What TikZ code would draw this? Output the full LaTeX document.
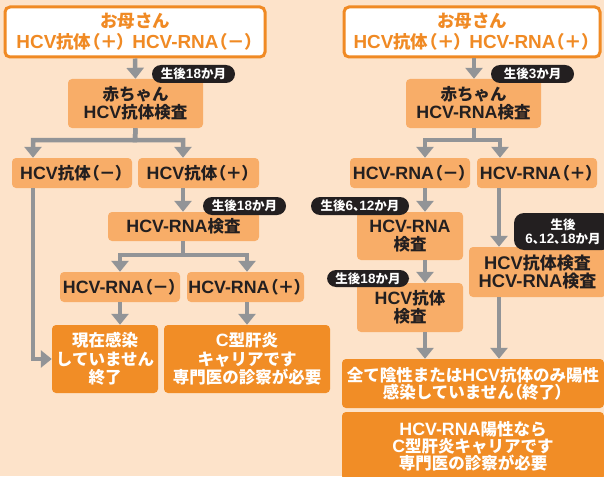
\documentclass[tikz,border=0pt]{standalone}
\usepackage{fontspec}
\setmainfont{Noto Sans CJK JP}
\newfontfamily\jpp{Noto Sans CJK JP}[RawFeature=+palt]
\newfontfamily\lf{Liberation Sans}[Scale=1.08]
\usetikzlibrary{arrows.meta}
\definecolor{bg}{HTML}{FDE3CA}
\definecolor{lor}{HTML}{F8AD68}
\definecolor{dor}{HTML}{F18D26}
\definecolor{otx}{HTML}{F08A24}
\definecolor{gry}{HTML}{929497}
\definecolor{blk}{HTML}{231F20}
\newcommand\LT[1]{{\lf\bfseries #1}}
\newcommand\pk[1]{{\jpp\bfseries #1}}
\tikzset{
  topbox/.style={draw=otx, line width=3pt, fill=white, rounded corners=5pt, inner sep=0pt, text=otx, align=center, font=\fontsize{17.5}{21}\selectfont\bfseries},
  lbox/.style={fill=lor, rounded corners=4pt, inner sep=0pt, text=blk, align=center, font=\fontsize{16.5}{18.5}\selectfont\bfseries},
  dbox/.style={fill=dor, rounded corners=4pt, inner sep=0pt, text=white, align=center, font=\fontsize{16.5}{18.3}\selectfont\bfseries},
  pill/.style={fill=blk, rounded corners=9pt, inner sep=0pt, text=white, align=center, minimum height=18pt, font=\fontsize{12.5}{13.5}\selectfont\bfseries},
  conn/.style={draw=gry, line width=4.5pt},
  arr/.style={conn, -{Triangle[width=17pt,length=11pt]}}
}
\begin{document}
\begin{tikzpicture}[x=1pt,y=-1pt]
\useasboundingbox (0,0) rectangle (604,476);
\clip (0,0) rectangle (604,476);
\fill[bg] (0,0) rectangle (604,476);

% ---------- left column ----------
\node[topbox, minimum width=260pt, minimum height=50pt] (m1) at (135,32)
  {お母さん\\\LT{HCV}抗体\pk{（＋）}\hspace{6pt}\LT{HCV-RNA}\pk{（－）}};
\node[lbox, minimum width=135pt, minimum height=49pt] (b1) at (135.5,103.5)
  {赤ちゃん\\\LT{HCV}抗体検査};
\node[lbox, minimum width=120pt, minimum height=30pt] (n1) at (72,173) {\LT{HCV}抗体\pk{（－）}};
\node[lbox, minimum width=121pt, minimum height=30pt] (n2) at (198.5,173) {\LT{HCV}抗体\pk{（＋）}};
\node[lbox, minimum width=151pt, minimum height=29pt] (r1) at (183.5,226.5) {\LT{HCV-RNA}検査};
\node[lbox, minimum width=120pt, minimum height=30pt] (n3) at (120,287) {\LT{HCV-RNA}\pk{（－）}};
\node[lbox, minimum width=117pt, minimum height=30pt] (n4) at (245.5,287) {\LT{HCV-RNA}\pk{（＋）}};
\node[dbox, minimum width=106pt, minimum height=68pt] (d1) at (105,359)
  {現在感染\\していません\\終了};
\node[dbox, minimum width=166pt, minimum height=68pt] (d2) at (247,359)
  {\LT{C}型肝炎\\キャリアです\\専門医の診察が必要};

\coordinate (j1) at (135,140);
\coordinate (j2) at (183,255);
\draw[arr] (m1.south) -- (b1.north);
\draw[arr] (b1.south) -- (j1) -| (n1.north -| 33,0);
\draw[arr] (b1.south) -- (j1) -| (n2.north -| 183,0);
\draw[arr] (n2.south -| 183,0) -- (r1.north -| 183,0);
\draw[arr] (r1.south -| 183,0) -- (j2) -| (n3.north);
\draw[arr] (r1.south -| 183,0) -- (j2) -| (n4.north -| 247,0);
\draw[arr] (n3.south) -- (d1.north -| n3.south);
\draw[arr] (n4.south -| 247,0) -- (d2.north -| 247,0);
\draw[arr] (n1.south -| 33,0) |- (d1.west);

\node[pill, minimum width=83pt] (p1) at (193.5,74) {生後\LT{18}か月};
\node[pill, minimum width=83pt] (p2) at (244.5,206) {生後\LT{18}か月};

% ---------- right column ----------
\node[topbox, minimum width=256pt, minimum height=50pt] (m2) at (472,32)
  {お母さん\\\LT{HCV}抗体\pk{（＋）}\hspace{6pt}\LT{HCV-RNA}\pk{（＋）}};
\node[lbox, minimum width=135pt, minimum height=49pt] (b2) at (473.5,103.5)
  {赤ちゃん\\\LT{HCV-RNA}検査};
\node[lbox, minimum width=120pt, minimum height=30pt] (n5) at (410,173) {\LT{HCV-RNA}\pk{（－）}};
\node[lbox, minimum width=120pt, minimum height=30pt] (n6) at (537,173) {\LT{HCV-RNA}\pk{（＋）}};
\node[lbox, minimum width=106pt, minimum height=48pt] (r2) at (410,236) {\LT{HCV-RNA}\\検査};
\node[lbox, minimum width=106pt, minimum height=49pt] (r3) at (410,307.5) {\LT{HCV}抗体\\検査};
\node[lbox, minimum width=137pt, minimum height=50pt, font=\fontsize{17}{18}\selectfont\bfseries] (r4) at (537.5,272)
  {\LT{HCV}抗体検査\\\LT{HCV-RNA}検査};
\node[dbox, minimum width=262pt, minimum height=49pt, font=\fontsize{16.5}{17}\selectfont\bfseries] (d3) at (473,383.5)
  {全て陰性または\LT{HCV}抗体のみ陽性\\感染していません\pk{（}終了\pk{）}};
\node[dbox, minimum width=262pt, minimum height=68pt, font=\fontsize{16.5}{17}\selectfont\bfseries] (d4) at (473,446)
  {\LT{HCV-RNA}陽性なら\\\LT{C}型肝炎キャリアです\\専門医の診察が必要};

\coordinate (j3) at (474,140);
\draw[arr] (m2.south -| 474,0) -- (b2.north -| 474,0);
\draw[arr] (b2.south -| 474,0) -- (j3) -| (n5.north -| 425,0);
\draw[arr] (b2.south -| 474,0) -- (j3) -| (n6.north -| 500,0);
\draw[arr] (n5.south -| 425,0) -- (r2.north -| 425,0);
\draw[arr] (r2.south -| 425,0) -- (r3.north -| 425,0);
\draw[arr] (r3.south -| 425,0) -- (d3.north -| 425,0);
\draw[arr] (n6.south -| 499,0) -- (r4.north -| 499,0);
\draw[arr] (r4.south -| 499,0) -- (d3.north -| 499,0);

\node[pill, minimum width=83pt] (p3) at (532.5,74) {生後\LT{3}か月};
\node[pill, minimum width=98pt] (p4) at (360,206) {生後\LT{6}\pk{、}\LT{12}か月};
\node[pill, minimum width=82pt, minimum height=17pt] (p5) at (368,278.5) {生後\LT{18}か月};
\node[pill, minimum width=98pt, minimum height=37pt, rounded corners=10pt] (p6) at (563,231.5)
  {生後\\\LT{6}\pk{、}\LT{12}\pk{、}\LT{18}か月};
\end{tikzpicture}
\end{document}
